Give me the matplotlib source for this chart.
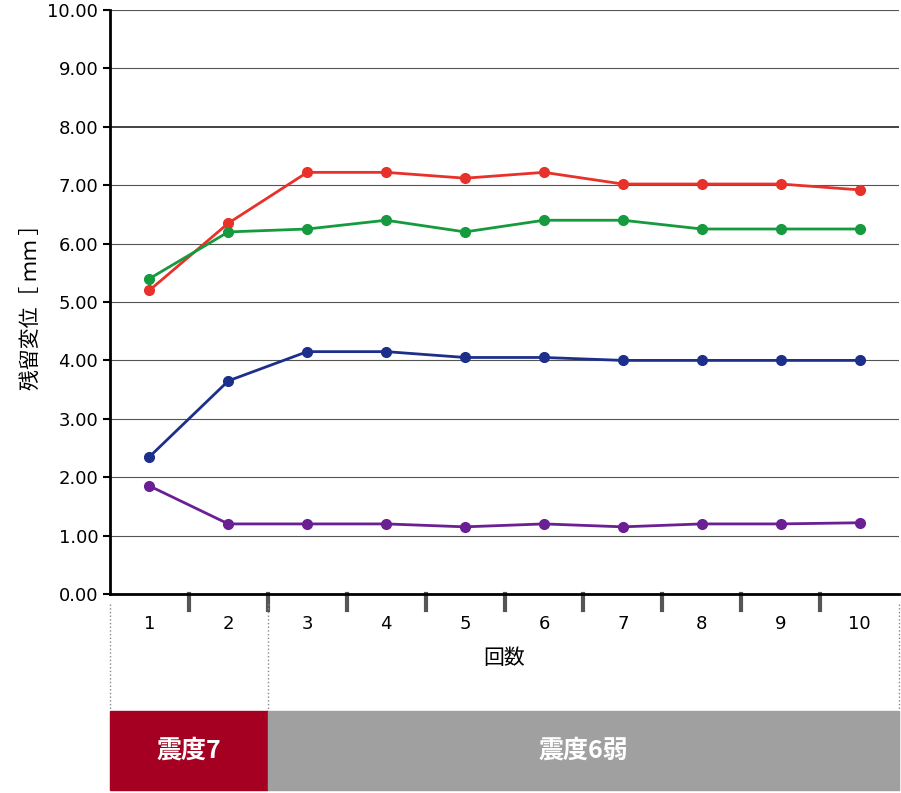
import matplotlib.pyplot as plt
from matplotlib.patches import Rectangle
import numpy as np

plt.rcParams["font.family"] = ["Noto Sans CJK JP", "DejaVu Sans"]

runs = [1, 2, 3, 4, 5, 6, 7, 8, 9, 10]
red_vals = [5.2, 6.35, 7.22, 7.22, 7.12, 7.22, 7.02, 7.02, 7.02, 6.92]
green_vals = [5.4, 6.2, 6.25, 6.4, 6.2, 6.4, 6.4, 6.25, 6.25, 6.25]
blue_vals = [2.35, 3.65, 4.15, 4.15, 4.05, 4.05, 4.0, 4.0, 4.0, 4.0]
purple_vals = [1.85, 1.2, 1.2, 1.2, 1.15, 1.2, 1.15, 1.2, 1.2, 1.22]
yticks = np.arange(0, 10.01, 1.0)

fig = plt.figure(figsize=(9.01, 7.93), dpi=100)
W, H = 901, 793
ax = fig.add_axes([110 / W, (H - 594) / H, 789 / W, 584 / H])

series = [(red_vals, "#e8312a"), (green_vals, "#159a3e"),
          (blue_vals, "#1c2f8a"), (purple_vals, "#6a1f93")]
for vals, c in series:
    ax.plot(runs, vals, color=c, lw=2, marker="o", ms=7, clip_on=False, zorder=3)

ax.set_xlim(0.5, 10.5)
ax.set_ylim(0, 10)
ax.set_yticks(yticks)
ax.set_yticklabels([f"{v:.2f}" for v in yticks], fontsize=13, family="DejaVu Sans")
for v in yticks[1:]:
    ax.axhline(v, color="#222222" if v == 8 else "#555555", lw=1.2 if v == 8 else 0.8, zorder=1)

ax.set_xticks(runs)
ax.set_xticklabels([str(r) for r in runs], fontsize=13, family="DejaVu Sans")
ax.tick_params(axis="x", length=0, pad=15)
ax.tick_params(axis="y", length=5, width=1.5, direction="out")
for b in np.arange(1.5, 10.5, 1.0):
    ax.plot([b, b], [0, -0.27], color="#555555", lw=3, clip_on=False)
for s in ["top", "right"]:
    ax.spines[s].set_visible(False)
ax.spines["left"].set_linewidth(2)
ax.spines["bottom"].set_linewidth(2)
ax.set_xlabel("回数", fontsize=15, labelpad=10)
ax.set_ylabel("残留変位［ ｍｍ ］", fontsize=15, labelpad=4)

# bottom intensity band
for x in [110, 268, 899]:
    fig.add_artist(plt.Line2D([x / W, x / W], [(H - 604) / H, (H - 710) / H],
                              color="#888888", lw=1, ls=":"))
fig.add_artist(Rectangle((110 / W, 3 / H), 158 / W, 79 / H, color="#a50021", transform=fig.transFigure))
fig.add_artist(Rectangle((268 / W, 3 / H), 631 / W, 79 / H, color="#a0a0a0", transform=fig.transFigure))
fig.text(189 / W, 42 / H, "震度7", color="white", fontsize=18, weight="bold", ha="center", va="center")
fig.text(583 / W, 42 / H, "震度6弱", color="white", fontsize=18, weight="bold", ha="center", va="center")

fig.savefig("out.png", dpi=100)
